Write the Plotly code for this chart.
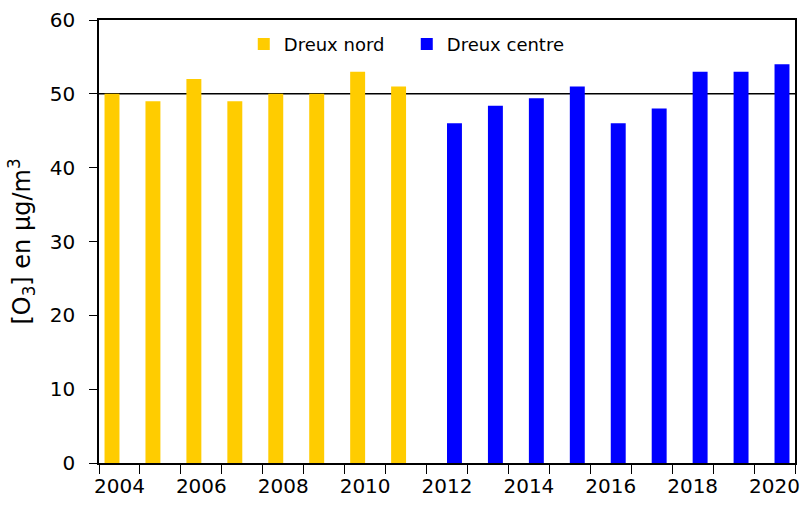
import plotly.graph_objects as go

years = [str(y) for y in range(2004, 2021)]
nord_values = [50, 49, 52, 49, 50, 50, 53, 51, None, None, None, None, None, None, None, None, None]
centre_values = [None, None, None, None, None, None, None, None, 46, 48.4, 49.4, 51, 46, 48, 53, 53, 54]
tick_labels = [y if int(y) % 2 == 0 else "" for y in years]
reference_value = 50

fig = go.Figure()
fig.add_trace(go.Bar(x=years, y=nord_values, name="Dreux nord",
                     marker=dict(color="#FFCC00", line=dict(width=0))))
fig.add_trace(go.Bar(x=years, y=centre_values, name="Dreux centre",
                     marker=dict(color="#0000FF", line=dict(width=0))))

fig.add_shape(type="line", xref="paper", x0=0, x1=1, yref="y",
              y0=reference_value, y1=reference_value,
              line=dict(color="#000000", width=1.5), layer="below")

fig.update_layout(
    width=802, height=507,
    margin=dict(l=99, r=7, t=20, b=44, autoexpand=False),
    paper_bgcolor="white", plot_bgcolor="white",
    barmode="group", bargap=0.27, bargroupgap=0,
    font=dict(family="DejaVu Sans", color="black"),
    showlegend=True,
    legend=dict(orientation="h", x=0.208, xanchor="left", y=0.945, yanchor="middle",
                font=dict(size=18, family="DejaVu Sans"), bgcolor="rgba(0,0,0,0)",
                entrywidth=118, itemwidth=30),
    xaxis=dict(type="category", tickmode="array", tickvals=years, ticktext=tick_labels,
               tickson="boundaries", ticks="outside", ticklen=9, tickcolor="black",
               tickangle=0, automargin=False,
               showline=True, linecolor="black", linewidth=1.5, mirror=True,
               showgrid=False, tickfont=dict(size=20), ticklabelstandoff=4),
    yaxis=dict(range=[0, 60], dtick=10, ticks="outside", ticklen=8, tickcolor="black",
               showline=True, linecolor="black", linewidth=1.5, mirror=True,
               showgrid=False, zeroline=False, tickfont=dict(size=20),
               ticklabelstandoff=10, automargin=False,
               title=dict(text="[O<sub>3</sub>] en µg/m<sup>3</sup>", font=dict(size=24),
                          standoff=12)),
)

fig.write_html("out.html", config={"displayModeBar": False},
               post_script="document.body.style.margin='0';")
